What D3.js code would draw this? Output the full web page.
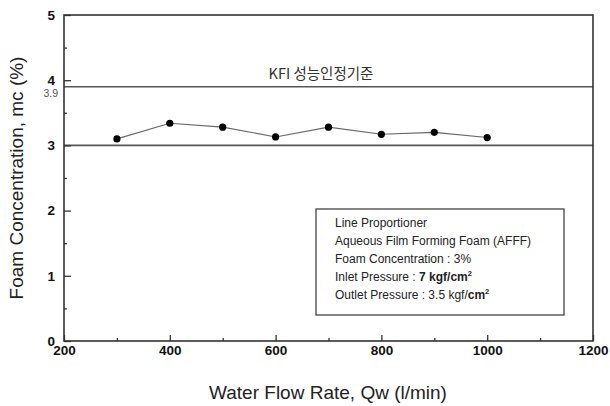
<!DOCTYPE html>
<html>
<head>
<meta charset="utf-8">
<script src="https://cdn.jsdelivr.net/npm/d3@7"></script>
<style>
  body { margin: 0; background: #fff; }
  svg { display: block; font-family: "Liberation Sans", Arial, sans-serif; }
</style>
</head>
<body>
<div id="chart"></div>
<script>
// data
const flowRate = [300, 400, 500, 600, 700, 800, 900, 1000];
const foamConc = [3.1, 3.34, 3.28, 3.13, 3.28, 3.17, 3.2, 3.12];
const refLevels = [3, 3.9];
const xTicks = [200, 400, 600, 800, 1000, 1200];
const yTicks = [0, 1, 2, 3, 4, 5];
const legendLines = [
  "Line Proportioner",
  "Aqueous Film Forming Foam (AFFF)",
  "Foam Concentration : 3%",
  "Inlet Pressure : 7 kgf/cm",
  "Outlet Pressure : 3.5 kgf/cm"
];

const width = 610, height = 406;
const margin = { top: 15, right: 17, bottom: 65, left: 64 };

const svg = d3.select("#chart").append("svg")
  .attr("width", width).attr("height", height);

const x = d3.scaleLinear().domain([200, 1200]).range([margin.left, width - margin.right]);
const y = d3.scaleLinear().domain([0, 5]).range([height - margin.bottom, margin.top]);

const axisColor = "#333";
const fmt = d3.format("d");

// reference lines
svg.selectAll(".ref")
  .data(refLevels)
  .enter()
  .append("line")
  .attr("x1", x(200)).attr("x2", x(1200))
  .attr("y1", d => y(d)).attr("y2", d => y(d))
  .attr("stroke", "#555")
  .attr("stroke-width", 1.6);

// frame
svg.append("rect")
  .attr("x", x(200)).attr("y", y(5))
  .attr("width", x(1200) - x(200)).attr("height", y(0) - y(5))
  .attr("fill", "none")
  .attr("stroke", axisColor)
  .attr("stroke-width", 1.6);

// x axis (ticks inward)
const xAxis = d3.axisBottom(x).tickValues(xTicks).tickSize(-6).tickPadding(4).tickFormat(fmt);
const gx = svg.append("g")
  .attr("transform", `translate(0,${y(0)})`)
  .call(xAxis);
gx.select(".domain").remove();
gx.selectAll("line").attr("stroke", axisColor).attr("stroke-width", 1.3);
gx.selectAll("text").attr("font-size", 13.5).attr("font-weight", "bold").attr("fill", "#111");

const xMinor = d3.axisBottom(x).tickValues(d3.range(300, 1200, 200)).tickSize(-3).tickFormat("");
svg.append("g").attr("transform", `translate(0,${y(0)})`).call(xMinor)
  .call(g => g.select(".domain").remove())
  .selectAll("line").attr("stroke", axisColor).attr("stroke-width", 1.3);

// y axis (ticks inward)
const yAxis = d3.axisLeft(y).tickValues(yTicks).tickSize(-7).tickPadding(9).tickFormat(fmt);
const gy = svg.append("g")
  .attr("transform", `translate(${x(200)},0)`)
  .call(yAxis);
gy.select(".domain").remove();
gy.selectAll("line").attr("stroke", axisColor).attr("stroke-width", 1.3);
gy.selectAll("text").attr("font-size", 13.5).attr("font-weight", "bold").attr("fill", "#111");

const yMinor = d3.axisLeft(y).tickValues([0.5, 1.5, 2.5, 3.5, 4.5]).tickSize(-3).tickFormat("");
svg.append("g").attr("transform", `translate(${x(200)},0)`).call(yMinor)
  .call(g => g.select(".domain").remove())
  .selectAll("line").attr("stroke", axisColor).attr("stroke-width", 1.3);

// 3.9 label
svg.append("text")
  .attr("x", x(200) - 6).attr("y", y(3.9) + 10)
  .attr("text-anchor", "end")
  .attr("font-size", 10.5)
  .attr("fill", "#555")
  .text("3.9");

// KFI label
svg.append("text")
  .attr("x", 321).attr("y", y(3.9) - 8)
  .attr("text-anchor", "middle")
  .attr("font-family", "'Noto Sans CJK KR', 'Liberation Sans', sans-serif")
  .attr("font-size", 14.5)
  .attr("fill", "#333")
  .text("KFI 성능인정기준");

// data line
const line = d3.line()
  .x((d, i) => x(flowRate[i]))
  .y(d => y(d));

svg.append("path")
  .datum(foamConc)
  .attr("d", line)
  .attr("fill", "none")
  .attr("stroke", "#666")
  .attr("stroke-width", 1.1);

svg.selectAll(".pt")
  .data(foamConc)
  .enter()
  .append("circle")
  .attr("cx", (d, i) => x(flowRate[i]))
  .attr("cy", d => y(d))
  .attr("r", 3.6)
  .attr("fill", "#000");

// legend box
const lg = svg.append("g").attr("transform", "translate(316,209)");
lg.append("rect")
  .attr("width", 248).attr("height", 106)
  .attr("fill", "#fff")
  .attr("stroke", axisColor)
  .attr("stroke-width", 1.2);

const lineY = [18, 36, 54, 72, 90];
lg.selectAll(".lt")
  .data(legendLines)
  .enter()
  .append("text")
  .attr("x", 19)
  .attr("y", (d, i) => lineY[i])
  .attr("font-size", 12)
  .attr("fill", "#222")
  .each(function (d, i) {
    const t = d3.select(this);
    if (i === 3) {
      t.append("tspan").text("Inlet Pressure : ");
      t.append("tspan").attr("font-weight", "bold").text("7 kgf/cm");
      t.append("tspan").attr("font-weight", "bold").attr("font-size", 7.5).attr("dy", -5).text("2");
    } else if (i === 4) {
      t.append("tspan").text("Outlet Pressure : 3.5 kgf/");
      t.append("tspan").attr("font-weight", "bold").text("cm");
      t.append("tspan").attr("font-weight", "bold").attr("font-size", 7.5).attr("dy", -5).text("2");
    } else {
      t.text(d);
    }
  });

// axis titles
svg.append("text")
  .attr("transform", `translate(23,178) rotate(-90)`)
  .attr("text-anchor", "middle")
  .attr("font-size", 19)
  .attr("fill", "#222")
  .text("Foam Concentration, mc (%)");

svg.append("text")
  .attr("x", 328).attr("y", 399)
  .attr("text-anchor", "middle")
  .attr("font-size", 19)
  .attr("fill", "#222")
  .text("Water Flow Rate, Qw (l/min)");
</script>
</body>
</html>
